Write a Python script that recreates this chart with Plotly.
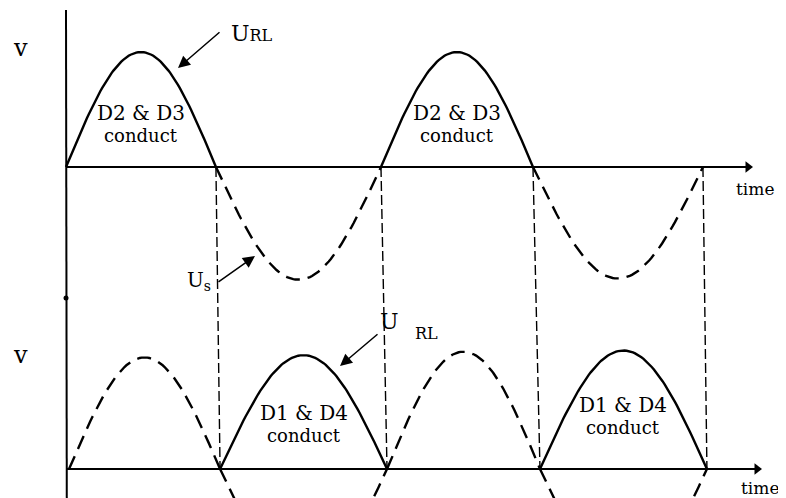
import numpy as np
import plotly.graph_objects as go

# ---------------- data ----------------
# time in ms, voltage normalised to peak = 1
top_cross = [0.0, 9.43, 19.81, 29.37, 40.06]          # zero crossings, upper trace
top_peaks = [1.00, -0.98, 1.00, -0.97]                 # half-wave peaks, upper trace
top_solid = [True, False, True, False]                 # solid = U_RL, dashed = U_s

bot_cross = [0.19, 9.69, 20.19, 29.81, 40.31]          # zero crossings, lower trace
bot_peaks = [0.97, 0.99, 1.02, 1.03]                   # half-wave peaks, lower trace
bot_solid = [False, True, False, True]
bot_neg_idx = [1, 3]                                    # dashed negative halves below the axis
bot_neg_peak = [-1.0, -1.0]

top_labels = ["D2 & D3", "D2 & D3"]
bot_labels = ["D1 & D4", "D1 & D4"]

# ---------------- layout constants ----------------
W, H = 786, 498
PAGE = 8                       # browser body margin
X0PX, KX = 66.0, 15.9          # px of t=0, px per ms
Y0PX, KY = 167.0, 115.0        # px of upper baseline, px per volt unit
BOT_BASE = -2.626              # lower baseline in upper-trace units

def tx(px):
    return (px - X0PX) / KX

def vy(py):
    return (Y0PX - py) / KY

FONT = "DejaVu Serif"
fig = go.Figure()

def half_wave(t0, t1, a, base, solid):
    t = np.linspace(t0, t1, 80)
    y = base + a * np.sin(np.pi * (t - t0) / (t1 - t0))
    fig.add_trace(go.Scatter(
        x=t, y=y, mode="lines", hoverinfo="skip", showlegend=False,
        line=dict(color="black", width=2.4,
                  dash="solid" if solid else "14px,8px")))

for i, a in enumerate(top_peaks):
    half_wave(top_cross[i], top_cross[i + 1], a, 0.0, top_solid[i])
for i, a in enumerate(bot_peaks):
    half_wave(bot_cross[i], bot_cross[i + 1], a, BOT_BASE, bot_solid[i])
for i, a in zip(bot_neg_idx, bot_neg_peak):
    half_wave(bot_cross[i], bot_cross[i + 1], a, BOT_BASE, False)

# vertical dashed guide lines between crossings
for tt, tb in zip(top_cross[1:], bot_cross[1:]):
    fig.add_trace(go.Scatter(
        x=[tt, tb], y=[0.0, BOT_BASE], mode="lines", hoverinfo="skip",
        showlegend=False, line=dict(color="black", width=1.4, dash="10px,4px")))

# axes drawn as lines
t_end_top = tx(748)
t_end_bot = tx(757)
fig.add_trace(go.Scatter(x=[0, t_end_top], y=[0, 0], mode="lines",
                         line=dict(color="black", width=2), showlegend=False, hoverinfo="skip"))
fig.add_trace(go.Scatter(x=[0, t_end_bot], y=[BOT_BASE, BOT_BASE], mode="lines",
                         line=dict(color="black", width=2), showlegend=False, hoverinfo="skip"))
fig.add_trace(go.Scatter(x=[t_end_top, t_end_bot], y=[0, BOT_BASE], mode="markers",
                         marker=dict(symbol="triangle-right", size=10, color="black"),
                         showlegend=False, hoverinfo="skip"))
fig.add_trace(go.Scatter(x=[0, 0.05], y=[vy(10), vy(500)], mode="lines",
                         line=dict(color="black", width=2), showlegend=False, hoverinfo="skip"))
fig.add_trace(go.Scatter(x=[0], y=[vy(298)], mode="markers",
                         marker=dict(size=5, color="black"), showlegend=False, hoverinfo="skip"))

ann = []
def text(px, py, s, size, anchor="center"):
    ann.append(dict(x=tx(px), y=vy(py), xref="x", yref="y", text=s, showarrow=False,
                    xanchor=anchor, yanchor="middle",
                    font=dict(family=FONT, size=size, color="black")))

def arrow(px0, py0, px1, py1):
    ann.append(dict(x=tx(px1), y=vy(py1), ax=tx(px0), ay=vy(py0), xref="x", yref="y",
                    axref="x", ayref="y", text="", showarrow=True, arrowhead=2,
                    arrowsize=1.6, arrowwidth=1.5, arrowcolor="black", standoff=0))

text(20, 48, "v", 24)
text(20, 355, "v", 24)
text(229, 33, "U<span style='font-size:16px'>RL</span>", 22, "left")
arrow(221, 31, 178, 68)
for i, lab in enumerate(top_labels):
    k = 2 * i
    cx = X0PX + KX * (top_cross[k] + top_cross[k + 1]) / 2
    text(cx, 113, lab, 20)
    text(cx, 135, "conduct", 18)
for i, lab in enumerate(bot_labels):
    k = 2 * i + 1
    cx = X0PX + KX * (bot_cross[k] + bot_cross[k + 1]) / 2
    text(cx, 413 - 8 * i, lab, 20)
    text(cx, 435 - 8 * i, "conduct", 18)
text(755, 189, "time", 17)
text(760, 488, "time", 17)
text(213, 281, "U<sub>s</sub>", 20, "right")
arrow(217, 283, 255, 256)
text(389, 321, "U", 22)
text(426, 333, "RL", 16)
arrow(379, 333, 340, 366)

fig.update_layout(
    width=W - PAGE, height=H - PAGE, margin=dict(l=0, r=0, t=0, b=0),
    paper_bgcolor="white", plot_bgcolor="white", showlegend=False,
    xaxis=dict(range=[tx(PAGE), tx(W)], visible=False, fixedrange=True),
    yaxis=dict(range=[vy(H), vy(PAGE)], visible=False, fixedrange=True),
    annotations=ann,
)
fig.write_html("out.html")
